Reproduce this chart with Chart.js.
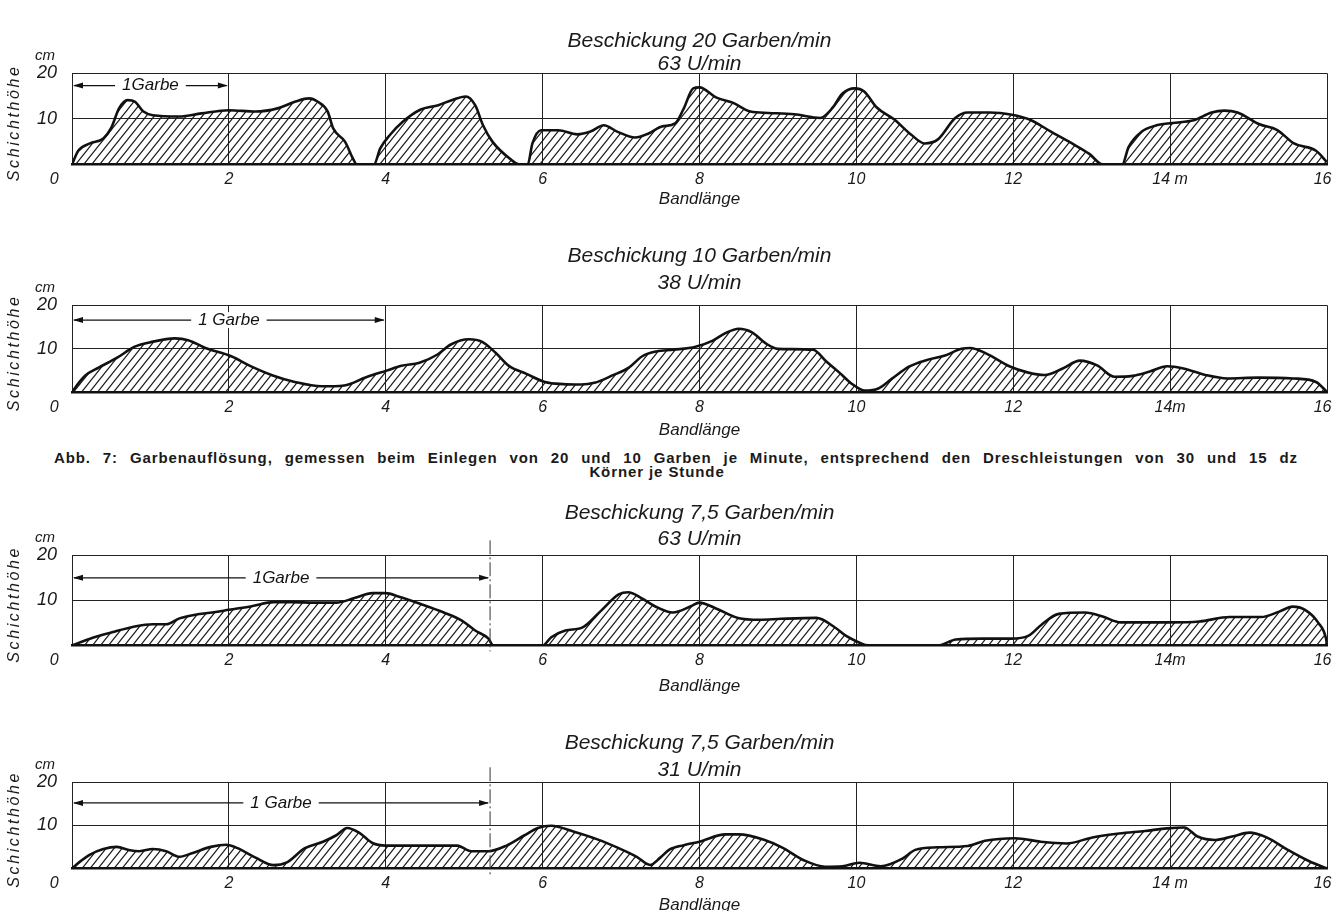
<!DOCTYPE html>
<html>
<head>
<meta charset="utf-8">
<script src="https://cdn.jsdelivr.net/npm/chart.js@4/dist/chart.umd.min.js"></script>
<style>
  body { margin: 0; background: #fff; }
  #page { position: relative; width: 1332px; height: 911px; overflow: hidden; background: #fff; }
  .panel { position: absolute; left: 0; width: 1332px; }
  .cap { position: absolute; font: bold 15px "Liberation Sans", sans-serif; color: #1a1a1a; letter-spacing: 0.9px; line-height: 15px; }
</style>
</head>
<body>
<div id="page">
  <div class="panel" id="b1"><canvas id="c1"></canvas></div>
  <div class="panel" id="b2"><canvas id="c2"></canvas></div>
  <div class="cap" style="left:54px;width:1244px;top:450px;text-align:justify;text-align-last:justify;">Abb. 7: Garbenauflösung, gemessen beim Einlegen von 20 und 10 Garben je Minute, entsprechend den Dreschleistungen von 30 und 15 dz</div>
  <div class="cap" style="left:0;width:1314px;top:464px;text-align:center;">Körner je Stunde</div>
  <div class="panel" id="b3"><canvas id="c3"></canvas></div>
  <div class="panel" id="b4"><canvas id="c4"></canvas></div>
</div>
<script>
// Bandlänge (m) / Schichthöhe (cm)
let p1X = [0,0.08,0.23,0.4,0.5,0.6,0.71,0.8,0.91,1.03,1.37,1.65,2.0,2.34,2.62,2.85,3.02,3.13,3.26,3.33,3.48,3.59,3.63,3.85,3.93,4.05,4.22,4.44,4.67,4.84,5.02,5.14,5.24,5.36,5.6,5.7,5.81,5.87,5.98,6.2,6.44,6.61,6.78,6.95,7.18,7.35,7.52,7.69,7.8,7.92,8.0,8.21,8.43,8.65,8.88,9.21,9.54,9.7,9.82,9.98,10.1,10.26,10.48,10.7,10.87,11.04,11.26,11.42,11.7,11.98,12.2,12.48,12.75,12.97,13.14,13.39,13.47,13.64,13.81,14.03,14.3,14.53,14.69,14.86,15.14,15.36,15.58,15.86,16.0];
let p1Y = [0,3,4.6,5.7,8,12.3,14.1,13.8,11.6,10.8,10.5,11.2,11.9,11.6,12.3,13.8,14.5,13.8,11.6,7.9,5,1,0,0,3.5,6.4,9.4,12,13,14.1,14.9,13,8.6,5,1,0,0,4.6,7.5,7.5,6.6,7.2,8.6,7.2,5.9,6.8,8.3,9,12.3,16.7,16.9,14.7,13.5,11.6,11.3,11,10.2,12.5,15.5,16.7,16,12.5,9.9,6.5,4.6,5.5,10.2,11.4,11.4,10.9,9.9,7.2,4.6,2.3,0,0,3.8,7.2,8.5,9.1,9.7,11.4,11.8,11.4,8.8,7.6,4.6,3.0,0.5];

let p2X = [0,0.06,0.17,0.34,0.57,0.8,1.02,1.31,1.48,1.7,2.03,2.27,2.56,2.84,3.18,3.47,3.75,4.01,4.2,4.43,4.66,4.83,5.06,5.23,5.4,5.57,5.8,6.03,6.26,6.49,6.66,6.89,7.1,7.27,7.45,7.67,7.95,8.17,8.33,8.5,8.67,8.84,9.0,9.45,9.61,9.78,9.94,10.11,10.28,10.45,10.67,10.89,11.12,11.34,11.45,11.67,11.95,12.18,12.4,12.63,12.85,13.07,13.29,13.52,13.74,13.96,14.17,14.45,14.73,15.12,15.57,15.86,16];
let p2Y = [0,1.6,3.9,5.7,7.9,10.5,11.6,12.4,12,10.2,8.3,6.1,3.9,2.4,1.4,1.6,3.5,5,6.1,6.8,8.7,11,12.2,11.6,9.1,6.1,4.2,2.4,1.9,1.8,2.2,3.9,5.7,8.3,9.4,9.8,10.5,11.9,13.6,14.6,13.8,11.3,10,9.8,7.2,4.6,2.0,0.4,0.9,3.1,5.9,7.4,8.4,10,10.2,8.8,6,4.6,4,5.5,7.3,6.2,3.6,3.8,4.8,6,5.5,4,3.2,3.4,3.2,2.4,0.1];

let p3X = [0,0.23,0.51,0.8,1.03,1.2,1.37,1.6,1.83,2.0,2.29,2.57,2.8,3.09,3.37,3.6,3.83,4.0,4.17,4.46,4.74,4.97,5.14,5.31,5.37,6.0,6.11,6.29,6.51,6.74,6.97,7.09,7.26,7.43,7.66,7.89,8.0,8.21,8.49,8.77,9.04,9.49,9.71,9.87,10.04,10.15,11.04,11.27,11.6,11.97,12.19,12.36,12.58,12.92,13.14,13.37,13.76,14.0,14.37,14.76,15.16,15.39,15.56,15.72,15.89,15.99,16];
let p3Y = [0,1.5,2.9,4.2,4.7,4.7,6,6.9,7.4,7.9,8.7,9.6,9.6,9.5,9.5,10.5,11.6,11.6,10.8,9.1,7.3,5.5,3.3,1.5,0,0,1.8,3.3,4,7.6,11.3,11.8,10.5,8.7,7.3,8.7,9.5,8.2,6.1,5.7,5.9,6.1,4.2,2.1,0.6,0,0,1.3,1.5,1.5,2.1,4.6,7,7.3,6.4,5.1,5.1,5.1,5.3,6.3,6.3,7.5,8.6,7.9,5,1.3,0];

let p4X = [0,0.09,0.23,0.4,0.57,0.74,0.86,1.03,1.2,1.37,1.54,1.77,1.97,2.11,2.34,2.57,2.74,2.97,3.2,3.37,3.51,3.66,3.83,4.0,4.51,4.91,5.09,5.31,5.54,5.77,5.94,6.11,6.4,6.69,6.97,7.2,7.37,7.5,7.62,7.8,8.0,8.33,8.5,8.83,9.05,9.33,9.6,9.82,10.04,10.31,10.59,10.75,11.03,11.42,11.64,12.02,12.35,12.68,13.01,13.35,13.68,13.96,14.18,14.35,14.57,14.79,15.01,15.23,15.5,15.78,16];
let p4Y = [0,1.4,3.2,4.5,5,4.2,4,4.5,4,2.7,3.6,5,5.5,4.7,2.5,0.75,1.4,4.7,6.2,7.7,9.4,8.3,5.9,5.3,5.3,5.3,4,4,5.3,7.7,9.4,9.9,8.5,6.8,4.7,2.7,0.8,2.5,4.4,5.4,6.2,7.9,7.9,6.6,4.9,1.9,0.4,0.5,1.3,0.5,2.3,4.3,4.9,5.2,6.4,7.0,6.2,5.8,7.2,8.1,8.7,9.3,9.5,7.4,6.6,7.4,8.3,7.2,4.3,1.6,0];

let tickLabels1 = ['0','2','4','6','8','10','12','14 m','16'];
let tickLabels2 = ['0','2','4','6','8','10','12','14m','16'];
let tickLabels3 = ['0','2','4','6','8','10','12','14m','16'];
let tickLabels4 = ['0','2','4','6','8','10','12','14 m','16'];

let titles = ['Beschickung 20 Garben/min', 'Beschickung 10 Garben/min', 'Beschickung 7,5 Garben/min', 'Beschickung 7,5 Garben/min'];
let subtitles = ['63 U/min', '38 U/min', '63 U/min', '31 U/min'];
let garbeLabels = ['1Garbe', '1 Garbe', '1Garbe', '1 Garbe'];
let garbeEnd = [2, 4, 5.33, 5.33];
let garbeLevel = [17.3, 16.6, 15, 15.2];

// layout of the four panels
let panels = [
  {top: 29,  height: 180, subPad: [-1, -3], xTitlePad: -7},
  {top: 244, height: 196, subPad: [3, 10],  xTitlePad: -4},
  {top: 501, height: 195, subPad: [2, 4],   xTitlePad: -1},
  {top: 731, height: 184, subPad: [3, 0],   xTitlePad: -5}
];

let hatch = (() => {
  let c = document.createElement('canvas');
  c.width = 8; c.height = 10;
  let g = c.getContext('2d');
  g.strokeStyle = '#161616';
  g.lineWidth = 1.1;
  g.beginPath();
  g.moveTo(-1, 11.25); g.lineTo(9, -1.25);
  g.moveTo(-1, 1.25); g.lineTo(1, -1.25);
  g.moveTo(7, 11.25); g.lineTo(9, 8.75);
  g.stroke();
  return g.createPattern(c, 'repeat');
})();

const garbePlugin = {
  id: 'garbe',
  afterDraw(chart, args, opts) {
    let ctx = chart.ctx, xs = chart.scales.x, ys = chart.scales.y, a = chart.chartArea;
    ctx.save();
    // "cm" unit
    ctx.fillStyle = '#1a1a1a';
    ctx.font = 'italic 15px "Liberation Sans", sans-serif';
    ctx.textAlign = 'right';
    ctx.textBaseline = 'middle';
    ctx.fillText('cm', a.left - 17, a.top - 17);
    // y axis name, letter-spaced like the original
    ctx.save();
    ctx.translate(15, (a.top + a.bottom) / 2 + 4);
    ctx.rotate(-Math.PI / 2);
    ctx.textAlign = 'center';
    ctx.font = 'italic 16px "Liberation Sans", sans-serif';
    ctx.letterSpacing = '2.6px';
    ctx.fillText(opts.yName, 0, 0);
    ctx.restore();
    // dash-dot marker
    if (opts.marker) {
      let mx = xs.getPixelForValue(opts.marker);
      ctx.strokeStyle = '#333';
      ctx.lineWidth = 1;
      ctx.setLineDash([14, 3, 2, 3]);
      ctx.beginPath();
      ctx.moveTo(mx, a.top - 15);
      ctx.lineTo(mx, a.bottom + 6);
      ctx.stroke();
      ctx.setLineDash([]);
    }
    // arrow "1 Garbe"
    let x0 = xs.getPixelForValue(0), x1 = xs.getPixelForValue(opts.to);
    let y = ys.getPixelForValue(opts.level);
    ctx.strokeStyle = '#111';
    ctx.fillStyle = '#111';
    ctx.lineWidth = 1.3;
    ctx.beginPath();
    ctx.moveTo(x0 + 2, y); ctx.lineTo(x1 - 2, y);
    ctx.stroke();
    ctx.beginPath();
    ctx.moveTo(x0 + 1, y); ctx.lineTo(x0 + 11, y - 3); ctx.lineTo(x0 + 11, y + 3); ctx.closePath();
    ctx.moveTo(x1 - 1, y); ctx.lineTo(x1 - 11, y - 3); ctx.lineTo(x1 - 11, y + 3); ctx.closePath();
    ctx.fill();
    ctx.font = 'italic 17px "Liberation Sans", sans-serif';
    ctx.textAlign = 'center';
    let mid = (x0 + x1) / 2, w = ctx.measureText(opts.label).width;
    ctx.fillStyle = '#fff';
    ctx.fillRect(mid - w / 2 - 7, y - 8, w + 14, 16);
    ctx.fillStyle = '#111';
    ctx.fillText(opts.label, mid, y);
    ctx.restore();
  }
};

let makeChart = (i, xsArr, ysArr, labels) => {
  let p = panels[i];
  let box = document.getElementById('b' + (i + 1));
  box.style.top = p.top + 'px';
  box.style.height = p.height + 'px';
  let pts = xsArr.map((x, k) => ({x: x, y: ysArr[k]}));
  return new Chart(document.getElementById('c' + (i + 1)), {
    type: 'line',
    data: {
      datasets: [{
        data: pts,
        borderColor: '#111',
        borderWidth: 2.6,
        backgroundColor: hatch,
        fill: 'origin',
        pointRadius: 0,
        cubicInterpolationMode: 'monotone'
      }]
    },
    options: {
      responsive: true,
      maintainAspectRatio: false,
      animation: false,
      events: [],
      layout: {padding: {left: 0, right: 5, top: 0, bottom: 0}},
      plugins: {
        legend: {display: false},
        tooltip: {enabled: false},
        title: {
          display: true, text: titles[i], fullSize: false, color: '#1a1a1a',
          font: {family: '"Liberation Sans", sans-serif', size: 21, style: 'italic', weight: 'normal', lineHeight: 1.15},
          padding: {top: 0, bottom: 0}
        },
        subtitle: {
          display: true, text: subtitles[i], fullSize: false, color: '#1a1a1a',
          font: {family: '"Liberation Sans", sans-serif', size: 21, style: 'italic', weight: 'normal', lineHeight: 1.15},
          padding: {top: p.subPad[0], bottom: p.subPad[1]}
        },
        garbe: {to: garbeEnd[i], level: garbeLevel[i], label: garbeLabels[i], marker: i >= 2 ? 5.33 : null, yName: 'Schichthöhe'}
      },
      scales: {
        x: {
          type: 'linear', min: 0, max: 16,
          afterFit(s) { s.paddingLeft = 0; s.paddingRight = 0; },
          grid: {color: '#222', lineWidth: 1, drawTicks: false},
          border: {display: true, color: '#111', width: 2.6},
          ticks: {
            stepSize: 2, autoSkip: false, maxRotation: 0, padding: 6, color: '#1a1a1a',
            font: {family: '"Liberation Sans", sans-serif', size: 16, style: 'italic'},
            callback: (v) => v === 0 ? labels[0] + '\u2007\u2007\u2007\u2007' : (v === 16 ? labels[8] + '\u2007' : labels[v / 2])
          },
          title: {
            display: true, text: 'Bandlänge', color: '#1a1a1a', padding: {top: p.xTitlePad, bottom: 0},
            font: {family: '"Liberation Sans", sans-serif', size: 17, style: 'italic'}
          }
        },
        y: {
          min: 0, max: 20,
          afterFit(s) { s.width = 72; s.paddingTop = 0; s.paddingBottom = 0; },
          grid: {color: '#222', lineWidth: 1, drawTicks: false},
          border: {display: false},
          ticks: {
            stepSize: 10, padding: 15, color: '#1a1a1a',
            font: {family: '"Liberation Sans", sans-serif', size: 18, style: 'italic'},
            callback: (v) => v === 0 ? '' : String(v)
          }
        }
      }
    },
    plugins: [garbePlugin]
  });
};

makeChart(0, p1X, p1Y, tickLabels1);
makeChart(1, p2X, p2Y, tickLabels2);
makeChart(2, p3X, p3Y, tickLabels3);
makeChart(3, p4X, p4Y, tickLabels4);
</script>
</body>
</html>
